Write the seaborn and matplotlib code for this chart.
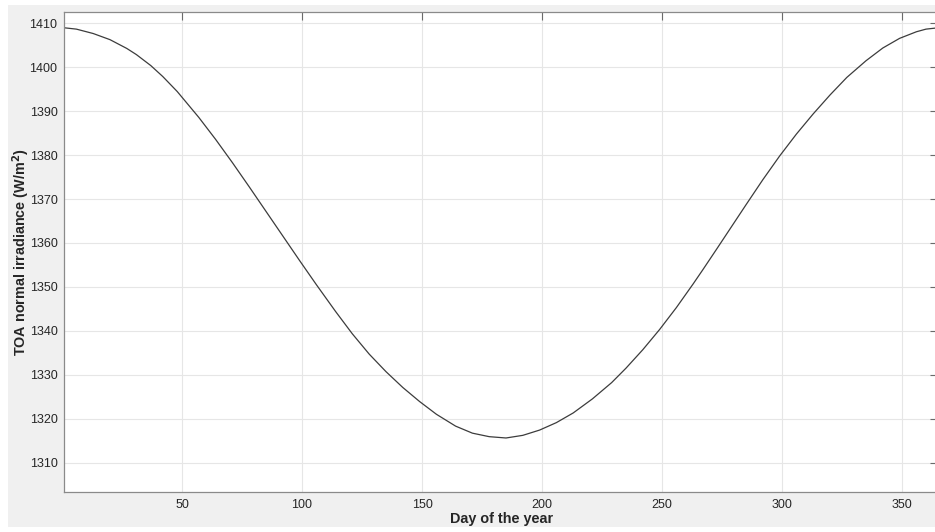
import matplotlib
matplotlib.use("Agg")
import matplotlib.pyplot as plt
import seaborn as sns
import pandas as pd
from matplotlib.patches import Rectangle

# Top-of-atmosphere normal irradiance over the year
day_of_year = [1, 6, 13, 20, 27, 31, 37, 42, 48, 57, 64, 71, 78, 85, 92, 99,
               106, 114, 121, 128, 135, 142, 149, 156, 164, 171, 178, 185, 192,
               199, 206, 213, 221, 229, 235, 242, 249, 256, 263, 267, 273, 277,
               285, 292, 299, 306, 313, 320, 327, 335, 342, 349, 356, 360, 365]
irradiance = [1409.0, 1408.7, 1407.7, 1406.3, 1404.3, 1402.9, 1400.4, 1397.9,
              1394.5, 1388.6, 1383.6, 1378.3, 1372.8, 1367.2, 1361.6, 1356.0,
              1350.5, 1344.4, 1339.3, 1334.7, 1330.7, 1327.1, 1323.9, 1321.0,
              1318.3, 1316.7, 1315.9, 1315.6, 1316.2, 1317.4, 1319.1, 1321.3,
              1324.5, 1328.2, 1331.5, 1335.7, 1340.3, 1345.3, 1350.7, 1353.9,
              1358.8, 1362.1, 1368.7, 1374.4, 1379.8, 1384.8, 1389.4, 1393.7,
              1397.7, 1401.5, 1404.4, 1406.6, 1408.1, 1408.7, 1409.0]
x_ticks = [50, 100, 150, 200, 250, 300, 350]
y_ticks = [1310, 1320, 1330, 1340, 1350, 1360, 1370, 1380, 1390, 1400, 1410]

sns.set_theme(style="whitegrid")
plt.rcParams["font.family"] = ["Liberation Sans", "DejaVu Sans"]

W, H = 935, 532
fig = plt.figure(figsize=(W / 100, H / 100), dpi=100)
fig.patch.set_facecolor("white")
fig.add_artist(Rectangle((8 / W, 5 / H), 1 - 8 / W, (527 - 5) / H,
                         transform=fig.transFigure, facecolor="#f0f0f0",
                         edgecolor="none", zorder=0))

ax = fig.add_axes([64.4 / W, 40 / H, (938 - 64.4) / W, 480 / H])
ax.set_facecolor("white")

df = pd.DataFrame({"day": day_of_year, "irr": irradiance})
sns.lineplot(data=df, x="day", y="irr", ax=ax, color="#3c3c3c", linewidth=0.9)

ax.set_xlim(1, 365)
ax.set_ylim(1303.3, 1412.6)
ax.set_xticks(x_ticks)
ax.set_yticks(y_ticks)

ax.grid(True, color="#e6e6e6", linewidth=0.8)
for side, sp in ax.spines.items():
    sp.set_visible(True)
    sp.set_color("#8a8a8a")
    sp.set_linewidth(0.9)

ax.tick_params(axis="both", direction="in", length=5.5, width=0.8,
               color="#6a6a6a", labelsize=9, labelcolor="#262626",
               top=True, right=True, labeltop=False, labelright=False, pad=5)

ax.set_xlabel("Day of the year", fontsize=10.4, fontweight="bold",
              color="#262626", labelpad=1)
ax.set_ylabel("TOA normal irradiance (W/m$^\\mathbf{2}$)", fontsize=10.4,
              fontweight="bold", color="#262626")
ax.yaxis.set_label_coords(-0.0372, 0.5)

fig.savefig("out.png", dpi=100, facecolor=fig.get_facecolor())
